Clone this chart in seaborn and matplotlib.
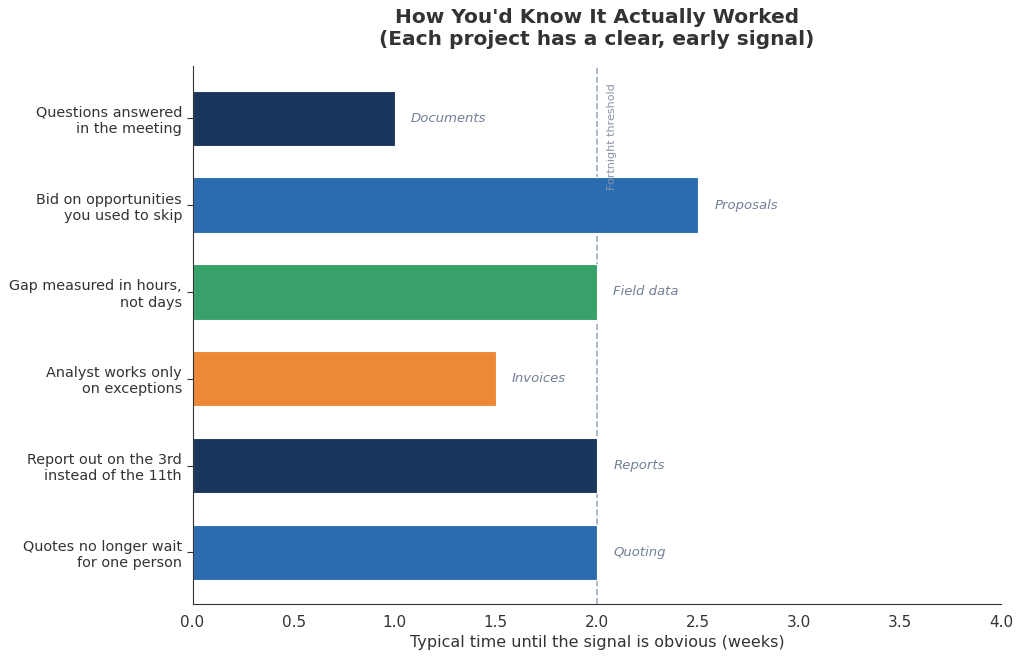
import matplotlib
matplotlib.use("Agg")
import matplotlib.pyplot as plt
import numpy as np
import pandas as pd
import seaborn as sns

# Data
signals = ["Questions answered\nin the meeting",
           "Bid on opportunities\nyou used to skip",
           "Gap measured in hours,\nnot days",
           "Analyst works only\non exceptions",
           "Report out on the 3rd\ninstead of the 11th",
           "Quotes no longer wait\nfor one person"]
projects = ["Documents", "Proposals", "Field data", "Invoices", "Reports", "Quoting"]
weeks = [1.0, 2.5, 2.0, 1.5, 2.0, 2.0]
colors = ["#1B365D", "#2B6CB0", "#38A169", "#ED8936", "#1B365D", "#2B6CB0"]
threshold = 2.0

df = pd.DataFrame({"signal": signals, "project": projects, "weeks": weeks})

sns.set_style("white")
plt.rcParams["font.family"] = ["DejaVu Sans"]
text_color = "#333333"

fig, ax = plt.subplots(figsize=(10.24, 6.62), dpi=100)
sns.barplot(data=df, y="signal", x="weeks", hue="signal", palette=colors,
            legend=False, width=0.64, saturation=1, edgecolor="white",
            linewidth=0.8, ax=ax)

# threshold line
ax.axvline(threshold, color="#A0AEC0", linestyle="--", linewidth=1.2, zorder=0.5)
ax.text(threshold + 0.05, -0.4, "Fortnight threshold", rotation=90,
        ha="left", va="top", fontsize=8, color="#8A94A6")

# project labels next to bars
for i, (w, p) in enumerate(zip(weeks, projects)):
    ax.text(w + 0.08, i, p, va="center", ha="left", fontsize=9.5,
            style="italic", color="#718096")

ax.set_xlim(0, 4)
ax.set_ylim(5.6, -0.6)
ax.set_xticks(np.arange(0, 4.01, 0.5))
ax.set_xlabel("Typical time until the signal is obvious (weeks)", fontsize=11.5, color=text_color)
ax.set_ylabel("")
ax.tick_params(axis="x", labelsize=11, colors=text_color, length=4)
ax.tick_params(axis="y", labelsize=10.4, colors=text_color, length=4, left=True)
ax.set_title("How You'd Know It Actually Worked\n(Each project has a clear, early signal)",
             fontsize=14.5, fontweight="bold", color=text_color, pad=15)
sns.despine(ax=ax)
for s in ["left", "bottom"]:
    ax.spines[s].set_color("#333333")

fig.subplots_adjust(left=0.188, right=0.978, top=0.9, bottom=0.087)
fig.savefig("out.png", dpi=100)
